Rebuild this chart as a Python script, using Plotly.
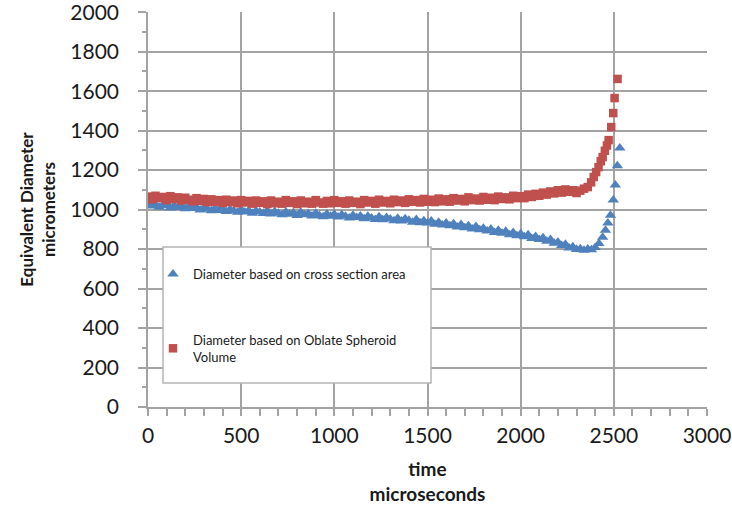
import plotly.graph_objects as go

# ---------------- data ----------------
time_area_us = [0, 20, 40, 60, 80, 100, 120, 140, 160, 180, 200, 220, 240, 260, 280, 300, 320, 340, 360, 380,
                400, 420, 440, 460, 480, 500, 520, 540, 560, 580, 600, 620, 640, 660, 680, 700, 720, 740, 760, 780,
                800, 820, 840, 860, 880, 900, 920, 940, 960, 980, 1000, 1020, 1040, 1060, 1080, 1100, 1120, 1140, 1160, 1180,
                1200, 1220, 1240, 1260, 1280, 1300, 1320, 1340, 1360, 1380, 1400, 1420, 1440, 1460, 1480, 1500, 1520, 1540, 1560, 1580,
                1600, 1620, 1640, 1660, 1680, 1700, 1720, 1740, 1760, 1780, 1800, 1820, 1840, 1860, 1880, 1900, 1920, 1940, 1960, 1980,
                2000, 2020, 2040, 2060, 2080, 2100, 2120, 2140, 2160, 2180, 2200, 2220, 2240, 2260, 2280, 2300, 2320, 2340, 2360, 2380,
                2400, 2420, 2440, 2455, 2468, 2482, 2497, 2508, 2519, 2532]
diam_area_um = [1030, 1018, 1026, 1012, 1024, 1020, 1008, 1022, 1010, 1016, 1004, 1018, 1006, 1012, 998, 1010, 1002, 994, 1008, 996,
                1004, 990, 1002, 994, 986, 1000, 988, 996, 982, 994, 988, 980, 994, 978, 990, 982, 974, 988, 976, 984,
                970, 986, 974, 980, 968, 982, 970, 964, 978, 966, 976, 962, 974, 966, 958, 972, 960, 968, 954, 966,
                958, 950, 964, 948, 960, 952, 944, 956, 942, 954, 946, 936, 950, 934, 944, 932, 942, 926, 936, 922,
                932, 918, 928, 912, 924, 908, 918, 902, 914, 898, 906, 892, 902, 884, 896, 880, 890, 872, 884, 868,
                878, 862, 872, 854, 864, 848, 858, 840, 848, 830, 836, 818, 824, 806, 812, 798, 802, 794, 800, 796,
                808, 828, 860, 895, 932, 972, 1048, 1124, 1222, 1312]

time_vol_us = [0, 20, 40, 60, 80, 100, 120, 140, 160, 180, 200, 220, 240, 260, 280, 300, 320, 340, 360, 380,
               400, 420, 440, 460, 480, 500, 520, 540, 560, 580, 600, 620, 640, 660, 680, 700, 720, 740, 760, 780,
               800, 820, 840, 860, 880, 900, 920, 940, 960, 980, 1000, 1020, 1040, 1060, 1080, 1100, 1120, 1140, 1160, 1180,
               1200, 1220, 1240, 1260, 1280, 1300, 1320, 1340, 1360, 1380, 1400, 1420, 1440, 1460, 1480, 1500, 1520, 1540, 1560, 1580,
               1600, 1620, 1640, 1660, 1680, 1700, 1720, 1740, 1760, 1780, 1800, 1820, 1840, 1860, 1880, 1900, 1920, 1940, 1960, 1980,
               2000, 2020, 2040, 2060, 2080, 2100, 2120, 2140, 2160, 2180, 2200, 2220, 2240, 2260, 2280, 2300, 2320, 2340,
               2360, 2378, 2392, 2405, 2418, 2430, 2440, 2452, 2463, 2472, 2486, 2497, 2504, 2520]
diam_vol_um = [1066, 1052, 1070, 1058, 1064, 1048, 1068, 1054, 1062, 1046, 1060, 1050, 1042, 1058, 1044, 1054, 1038, 1052, 1040, 1048,
               1034, 1050, 1038, 1046, 1032, 1048, 1036, 1044, 1030, 1046, 1034, 1042, 1028, 1046, 1032, 1040, 1030, 1048, 1034, 1042,
               1028, 1046, 1032, 1040, 1030, 1048, 1036, 1030, 1044, 1032, 1048, 1034, 1042, 1030, 1046, 1034, 1040, 1028, 1048, 1036,
               1044, 1030, 1050, 1036, 1044, 1032, 1050, 1038, 1046, 1034, 1052, 1040, 1048, 1036, 1054, 1040, 1050, 1038, 1056, 1042,
               1052, 1040, 1058, 1046, 1054, 1042, 1062, 1048, 1056, 1046, 1064, 1050, 1060, 1048, 1066, 1054, 1062, 1052, 1070, 1058,
               1068, 1058, 1076, 1064, 1080, 1070, 1086, 1076, 1092, 1082, 1098, 1086, 1102, 1090, 1098, 1084, 1096, 1106,
               1114, 1138, 1165, 1190, 1215, 1245, 1266, 1298, 1325, 1352, 1418, 1489, 1565, 1662]

x_ticks = [0, 500, 1000, 1500, 2000, 2500, 3000]
y_ticks = [0, 200, 400, 600, 800, 1000, 1200, 1400, 1600, 1800, 2000]

BLUE = "#4F81BD"
RED = "#C0504D"
GRID = "#a3a3a3"
FONT = "Lato, 'Open Sans', sans-serif"

fig = go.Figure()
fig.add_trace(go.Scatter(
    x=time_area_us, y=diam_area_um, mode="markers",
    name="Diameter based on cross section area",
    legendgroup="a",
    marker=dict(symbol="triangle-up", size=10, color=BLUE, line=dict(width=0)),
))
fig.add_trace(go.Scatter(
    x=time_vol_us, y=diam_vol_um, mode="markers",
    name="Diameter based on Oblate Spheroid<br>Volume",
    legendgroup="b",
    marker=dict(symbol="square", size=8.5, color=RED, line=dict(width=0)),
))

W, H = 732, 511
ml, mr, mt, mb = 148, 25, 12, 104
pw, ph = W - ml - mr, H - mt - mb


def px(xpix):
    return (xpix - ml) / pw


def py(ypix):
    return (mt + ph - ypix) / ph


# legend box
fig.add_shape(type="rect", xref="paper", yref="paper",
              x0=px(163), x1=px(431), y0=py(383), y1=py(247),
              fillcolor="white", line=dict(color="#b5b5b5", width=1.5), layer="above")

fig.update_layout(
    width=W, height=H,
    margin=dict(l=ml, r=mr, t=mt, b=mb, autoexpand=False),
    paper_bgcolor="white", plot_bgcolor="white",
    font=dict(family=FONT, color="#1a1a1a"),
    showlegend=True,
    legend=dict(
        x=px(153), y=py(259), xanchor="left", yanchor="top",
        bgcolor="rgba(0,0,0,0)", borderwidth=0,
        font=dict(size=13, family=FONT, color="#1a1a1a"),
        tracegroupgap=46, traceorder="grouped",
    ),
    xaxis=dict(
        range=[0, 3000], tickvals=x_ticks, ticktext=[str(v) for v in x_ticks],
        automargin=False, ticklabeloverflow="allow",
        showgrid=True, gridcolor=GRID, gridwidth=1.5,
        showline=True, linecolor=GRID, linewidth=1.5, mirror=False,
        ticks="outside", ticklen=7, tickwidth=1.5, tickcolor=GRID,
        minor=dict(dtick=100, ticks="outside", ticklen=7, tickwidth=1.5, tickcolor=GRID, showgrid=False),
        tickfont=dict(size=21, family=FONT, color="#1a1a1a"),
        ticklabelstandoff=2,
        zeroline=False,
        title=dict(text="<b>time<br>microseconds</b>", font=dict(size=19, family=FONT, color="#1a1a1a"), standoff=17),
    ),
    yaxis=dict(
        range=[0, 2001], tickvals=y_ticks, ticktext=[str(v) for v in y_ticks],
        automargin=False, ticklabeloverflow="allow",
        showgrid=True, gridcolor=GRID, gridwidth=1.5,
        showline=True, linecolor=GRID, linewidth=1.5,
        ticks="outside", ticklen=8, tickwidth=1.5, tickcolor=GRID,
        minor=dict(dtick=100, ticks="outside", ticklen=4, tickwidth=1.5, tickcolor=GRID, showgrid=False),
        tickfont=dict(size=21, family=FONT, color="#1a1a1a"),
        ticklabelstandoff=15,
        zeroline=False,
        title=dict(text="<b>Equivalent Diameter<br>micrometers</b>", font=dict(size=17, family=FONT, color="#1a1a1a"), standoff=10),
    ),
)

fig.write_html("out.html", config={"displayModeBar": False},
               post_script="document.body.style.margin='0px';")
